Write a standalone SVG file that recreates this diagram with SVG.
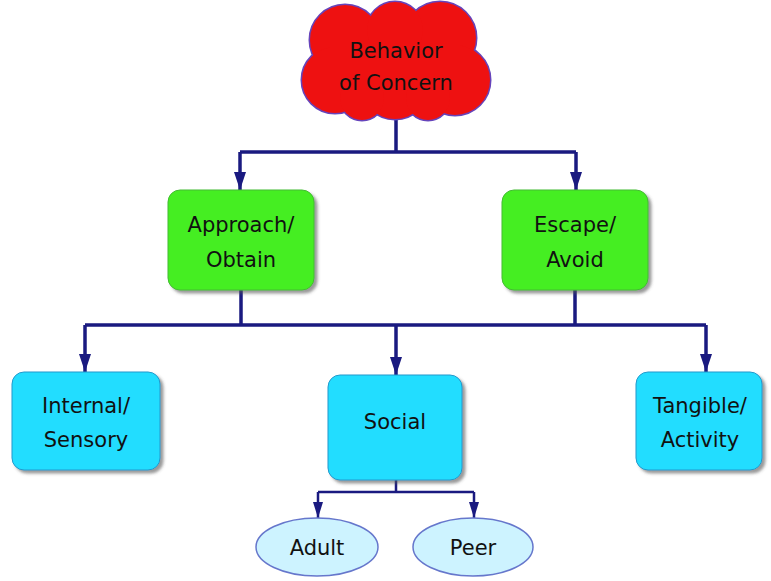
<svg xmlns="http://www.w3.org/2000/svg" width="771" height="581" viewBox="0 0 771 581">
<defs>
<filter id="sh" x="-10%" y="-10%" width="130%" height="130%"><feDropShadow dx="3" dy="3" stdDeviation="1.5" flood-color="#555" flood-opacity="0.6"/></filter>
<marker id="ah" viewBox="0 0 18 12" refX="18" refY="6" markerWidth="18" markerHeight="12" markerUnits="userSpaceOnUse" orient="auto">
<path d="M0,0 L18,6 L0,12 Z" fill="#1a1a80"/>
</marker>
<marker id="ahs" viewBox="0 0 16 10" refX="16" refY="5" markerWidth="16" markerHeight="10" markerUnits="userSpaceOnUse" orient="auto">
<path d="M0,0 L16,5 L0,10 Z" fill="#1a1a80"/>
</marker>
</defs>
<style>
.t{font-family:"Comic Sans MS","DejaVu Sans",sans-serif;font-size:21px;fill:#111;text-anchor:middle}
.g{fill:#44ee22;stroke:#44bb33;stroke-width:1}
.c{fill:#22ddff;stroke:#2299cc;stroke-width:1}
.e{fill:#cdf3ff;stroke:#6677cc;stroke-width:1.5}
.l{fill:none;stroke:#1a1a80;stroke-width:3.5}
.a{fill:none;stroke:#1a1a80;stroke-width:3.5;marker-end:url(#ah)}
.as{fill:none;stroke:#1a1a80;stroke-width:2.5;marker-end:url(#ahs)}
.cl{fill:#ee1111;stroke:#6644bb;stroke-width:3}
.cf{fill:#ee1111}
</style>
<g id="connectors">
<path class="l" d="M396,118 V152 M240,152 H576"/>
<path class="a" d="M240,152 V190"/>
<path class="a" d="M576,152 V190"/>
<path class="l" d="M241,290 V325 M575,290 V325 M85,325 H706"/>
<path class="a" d="M85,325 V372"/>
<path class="a" d="M396,325 V375"/>
<path class="a" d="M706,325 V372"/>
<path class="l" d="M396,480 V492 M318,492 H474" style="stroke-width:2.5"/>
<path class="as" d="M318,492 V518"/>
<path class="as" d="M474,492 V518"/>
</g>
<g id="behavior">
<g>
<circle class="cl" cx="345" cy="40" r="35"/>
<circle class="cl" cx="440" cy="38" r="36"/>
<circle class="cl" cx="395" cy="30" r="28"/>
<circle class="cl" cx="335" cy="80" r="33"/>
<circle class="cl" cx="455" cy="80" r="35"/>
<circle class="cl" cx="395" cy="85" r="34"/>
<circle class="cl" cx="362" cy="98" r="22"/>
<circle class="cl" cx="428" cy="98" r="22"/>
</g>
<g>
<circle class="cf" cx="345" cy="40" r="35"/>
<circle class="cf" cx="440" cy="38" r="36"/>
<circle class="cf" cx="395" cy="30" r="28"/>
<circle class="cf" cx="335" cy="80" r="33"/>
<circle class="cf" cx="455" cy="80" r="35"/>
<circle class="cf" cx="395" cy="85" r="34"/>
<circle class="cf" cx="362" cy="98" r="22"/>
<circle class="cf" cx="428" cy="98" r="22"/>
<rect class="cf" x="330" y="40" width="130" height="50"/>
</g>
<text class="t" x="396" y="58">Behavior</text>
<text class="t" x="396" y="90">of Concern</text>
</g>
<g id="approach">
<rect class="g" x="168" y="190" width="146" height="100" rx="12" filter="url(#sh)"/>
<text class="t" x="241" y="232">Approach/</text>
<text class="t" x="241" y="267">Obtain</text>
</g>
<g id="escape">
<rect class="g" x="502" y="190" width="146" height="100" rx="12" filter="url(#sh)"/>
<text class="t" x="575" y="232">Escape/</text>
<text class="t" x="575" y="267">Avoid</text>
</g>
<g id="internal">
<rect class="c" x="12" y="372" width="148" height="98" rx="12" filter="url(#sh)"/>
<text class="t" x="86" y="413">Internal/</text>
<text class="t" x="86" y="447">Sensory</text>
</g>
<g id="social">
<rect class="c" x="328" y="375" width="134" height="105" rx="12" filter="url(#sh)"/>
<text class="t" x="395" y="429">Social</text>
</g>
<g id="tangible">
<rect class="c" x="636" y="372" width="126" height="98" rx="12" filter="url(#sh)"/>
<text class="t" x="700" y="413">Tangible/</text>
<text class="t" x="700" y="447">Activity</text>
</g>
<g id="adult">
<ellipse class="e" cx="317" cy="547" rx="61" ry="29"/>
<text class="t" x="317" y="555">Adult</text>
</g>
<g id="peer">
<ellipse class="e" cx="473" cy="547" rx="60" ry="29"/>
<text class="t" x="473" y="555">Peer</text>
</g>
</svg>
